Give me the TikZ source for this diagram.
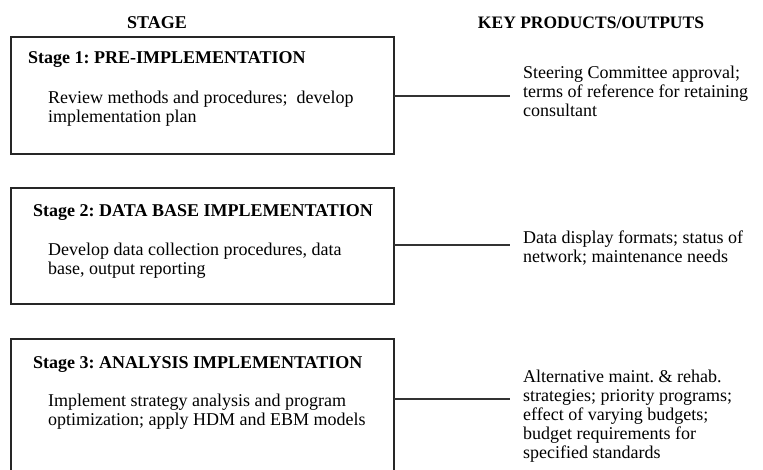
\documentclass[tikz,border=0pt]{standalone}
\usepackage{fontspec}
\setmainfont{Liberation Serif}
\frenchspacing
\usetikzlibrary{positioning}
\begin{document}
\begin{tikzpicture}[x=1pt,y=-1pt,
  stagebox/.style={draw=black!85, line width=1.4pt, inner sep=0pt},
  head/.style={font=\fontsize{18}{19}\selectfont\bfseries, anchor=base west, inner sep=0pt},
  body/.style={font=\fontsize{18}{19}\selectfont, anchor=base west, align=left, inner sep=0pt},
  link/.style={draw=black!80, line width=1.2pt}]
\useasboundingbox (0,0) rectangle (763,470);
\begin{scope}
\clip (0,0) rectangle (763,470);

% column titles
\node[head, anchor=base] (tstage) at (157,29) {STAGE};
\node[head, anchor=base, font=\fontsize{17.5}{19}\selectfont\bfseries] (tkey) at (591,29) {KEY PRODUCTS/OUTPUTS};

% stage boxes
\path[stagebox] (11,37) rectangle (394,154);
\coordinate (b1) at (394,96);
\path[stagebox] (11,188) rectangle (394,304);
\coordinate (b2) at (394,245);
\path[stagebox] (11,339) rectangle (394,490);
\coordinate (b3) at (394,399);

% stage texts (multi-line nodes are placed by their last baseline)
\node[head] (h1) at (28,64) {Stage 1: PRE-IMPLEMENTATION};
\node[body] (d1) at (48,123) {Review methods and procedures;~ develop\\implementation plan};
\node[head] (h2) at (33,217) {Stage 2: DATA BASE IMPLEMENTATION};
\node[body] (d2) at (48,275) {Develop data collection procedures, data\\base, output reporting};
\node[head] (h3) at (33,368) {Stage 3: ANALYSIS IMPLEMENTATION};
\node[body] (d3) at (48,425) {Implement strategy analysis and program\\optimization; apply HDM and EBM models};

% outputs
\coordinate (e1) at (510,96);
\coordinate (e2) at (510,245);
\coordinate (e3) at (510,399);
\node[body] (o1) at (523,117) {Steering Committee approval;\\terms of reference for retaining\\consultant};
\node[body] (o2) at (523,263) {Data display formats; status of\\network; maintenance needs};
\node[body] (o3) at (523,458) {Alternative maint. \& rehab.\\strategies; priority programs;\\effect of varying budgets;\\budget requirements for\\specified standards};

% connectors
\draw[link] (b1) -- (e1);
\draw[link] (b2) -- (e2);
\draw[link] (b3) -- (e3);
\end{scope}
\end{tikzpicture}
\end{document}
